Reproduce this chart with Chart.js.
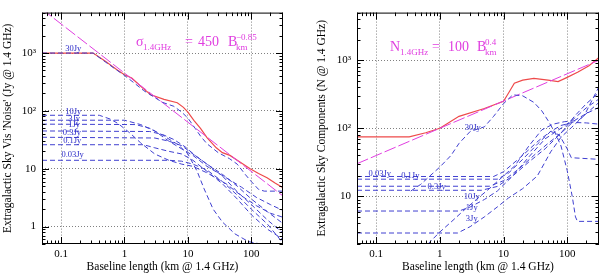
<!DOCTYPE html>
<html>
<head>
<meta charset="utf-8">
<script src="https://cdn.jsdelivr.net/npm/chart.js@4.4.0/dist/chart.umd.min.js"></script>
<style>
  html, body { margin: 0; padding: 0; background: #fff; }
  #wrap { position: relative; width: 600px; height: 275px; }
  .panel { position: absolute; top: 0; width: 300px; height: 275px; }
</style>
</head>
<body>
<div id="wrap">
  <div class="panel" style="left:0"><canvas id="left" width="300" height="275"></canvas></div>
  <div class="panel" style="left:300px"><canvas id="right" width="300" height="275"></canvas></div>
</div>
<script>
// ---- axes ----
const X_MIN = 0.05, X_MAX = 316;
const xTicks = [0.1, 1, 10, 100];
const xTickLabels = ['0.1', '1', '10', '100'];
const leftYTicks = [1, 10, 100, 1000];
const leftYTickLabels = ['1', '10', '10²', '10³'];
const rightYTicks = [10, 100, 1000];
const rightYTickLabels = ['10', '10²', '10³'];

// ---- left panel: sky "noise" vs baseline (km, Jy) ----
const leftTotal = [[0.05,1000],[0.32,1000],[0.5,720],[0.75,520],[1,420],[1.3,370],[1.6,300],[2,240],[2.6,190],
  [4.2,158],[6.8,138],[8.5,115],[10,95],[12.5,68],[15.8,50],[20,34.5],[28,23],[35,19],[46,17],[60,14],
  [96,10],[130,8.3],[177,7],[240,5.6],[316,4.7]];
const leftFit = [[0.05,5740],[316,3.38]];
const left30Jy = [[0.05,1000],[0.32,1000],[0.5,700],[0.75,510],[1,410],[1.5,290],[2,225],[3,170],[4,140],[6,120],
  [8,95],[10,75],[13,50],[16,36],[20,27],[30,19],[45,15],[60,12],[80,8],[100,6],[130,4.4],[160,4.1],[316,4.1]];
const left10Jy = [[0.05,84],[0.4,84],[0.6,72],[0.8,60],[1.2,42],[1.8,28],[3,18],[5,14],[8,12],[12,11],[20,8.5],
  [40,5.5],[70,3.4],[120,2.3],[200,1.7],[316,1.45]];
const left3Jy = [[0.05,69],[1,69],[1.8,58],[3,45],[5,30],[8,22],[12,17],[20,11],[40,7],[70,4.8],[120,3.2],[200,2.4],[316,1.9]];
const left1Jy = [[0.05,59],[1.5,58],[2.5,50],[4,38],[7,26],[10,18],[14,9],[18,4.5],[25,2],[35,1.2],[55,0.75],[90,0.55],[140,0.5]];
const left03Jy = [[0.05,45],[2.5,44],[4,39],[6,32],[9,24],[13,17],[20,12],[35,8],[60,5],[100,3],[180,1.8],[316,1.13]];
const left01Jy = [[0.05,35],[3,34],[5,30],[8,25],[12,18],[20,12],[35,7.5],[60,4],[100,2.4],[180,1.3],[316,0.77]];
const left003Jy = [[0.05,26],[2,26],[3,23],[5,20],[8,18],[12,14],[20,9],[35,5.5],[60,3],[100,1.6],[180,0.9],[316,0.6]];
const left001Jy = [[0.05,14],[5,14],[8,13.5],[12,12],[20,9.5],[35,6],[60,3.5],[100,2],[180,1.1],[316,0.52]];
const leftLabelText = ['30Jy', '10Jy', '3Jy', '1Jy', '0.3Jy', '0.1Jy', '0.03Jy'];
const leftLabelX = [0.156, 0.156, 0.16, 0.16, 0.148, 0.15, 0.152];
const leftLabelY = [1170, 97, 72, 57, 42.6, 30.3, 17.1];

// ---- right panel: number of sky components vs baseline ----
const rightTotal = [[0.05,75],[0.33,75],[0.6,86],[1,100],[2,150],[5,195],[10,250],[12,330],[14.8,460],[20,510],
  [30,540],[50,510],[72,485],[100,560],[148,670],[220,830],[316,1100]];
const rightFit = [[0.05,30.2],[316,1000]];
const right30Jy = [[0.35,12],[0.5,15],[0.7,20],[1,27],[1.5,40],[2,60],[3,90],[4,98],[5,105],[7,150],[10,230],
  [14,310],[20,300],[30,240],[40,180],[50,130],[65,85],[80,55],[100,24],[120,10],[135,5],[145,4.3],[316,4.3]];
const right003Jy = [[0.05,19.6],[7,19.6],[10,23],[20,40],[35,65],[55,90],[75,80],[100,50],[116,37],[316,35]];
const right01Jy = [[0.05,17.9],[8,17.9],[12,22],[20,35],[35,60],[55,90],[80,110],[120,122],[200,120],[316,115]];
const right02Jy = [[0.05,14.1],[6,14.1],[10,17],[18,26],[30,40],[50,60],[80,85],[130,130],[200,165],[316,203]];
const right03Jy = [[0.05,12.3],[4.5,12.3],[8,14],[14,20],[25,32],[45,50],[80,85],[130,150],[200,230],[316,334]];
const right1Jy = [[0.05,6.1],[2,6.1],[3,7],[5,9],[8,12],[14,20],[25,38],[45,70],[80,100],[130,140],[200,200],[316,270]];
const right3Jy = [[0.05,2.9],[1.9,2.9],[3,3.6],[5,5],[8,7],[12,9.5],[20,13],[34,20],[55,45],[80,74],[116,102],[186,155],[316,410]];
const right10Jy = [[0.65,2],[1,3],[1.5,4.2],[2.5,6.5],[4,9.5],[6,13],[10,20],[15,28],[25,55],[40,95],[60,115],[90,125],[150,130],[316,240]];
const rightLabelText = ['30Jy', '0.03Jy', '0.1Jy', '0.3Jy', '10Jy', '1Jy', '3Jy'];
const rightLabelX = [3.29, 0.114, 0.344, 0.89, 3.17, 3.17, 3.17];
const rightLabelY = [103, 21.8, 20.4, 13.7, 9.9, 6.76, 4.74];

const SERIF = '"Liberation Serif", "DejaVu Serif", serif';
const RED = '#ee4a4a';
const MAGENTA = '#e03ee0';
const BLUE = '#4040d0';

Chart.defaults.font.family = SERIF;
Chart.defaults.color = '#000';

function line(points, color, dash, width) {
    return {
        data: points.map(p => ({ x: p[0], y: p[1] })),
        borderColor: color,
        borderWidth: width,
        borderDash: dash,
        pointRadius: 0,
        tension: 0,
        fill: false
    };
}

// frame + inward minor ticks on all four sides
const frameTicks = {
    id: 'frameTicks',
    afterDatasetsDraw(chart) {
        const { ctx, chartArea: a, scales: { x, y } } = chart;
        ctx.save();
        ctx.strokeStyle = '#000';
        ctx.lineWidth = 1;
        ctx.strokeRect(a.left + 0.5, a.top + 0.5, a.right - a.left - 1, a.bottom - a.top - 1);
        ctx.beginPath();
        for (let e = -2; e <= 3; e++) {
            for (let k = 1; k <= 9; k++) {
                const v = k * Math.pow(10, e);
                const len = k === 1 ? 7 : 3.5;
                if (v >= x.min && v <= x.max) {
                    const px = Math.round(x.getPixelForValue(v)) + 0.5;
                    ctx.moveTo(px, a.bottom); ctx.lineTo(px, a.bottom - len);
                    ctx.moveTo(px, a.top); ctx.lineTo(px, a.top + len);
                }
                if (v >= y.min && v <= y.max) {
                    const py = Math.round(y.getPixelForValue(v)) + 0.5;
                    ctx.moveTo(a.left, py); ctx.lineTo(a.left + len, py);
                    ctx.moveTo(a.right, py); ctx.lineTo(a.right - len, py);
                }
            }
        }
        ctx.stroke();
        ctx.restore();
    }
};

function labelPlugin(texts, xs, ys) {
    return {
        id: 'curveLabels',
        afterDatasetsDraw(chart) {
            const { ctx, scales: { x, y } } = chart;
            ctx.save();
            ctx.font = '8.5px ' + SERIF;
            ctx.fillStyle = '#2c2cc8';
            ctx.textAlign = 'center';
            ctx.textBaseline = 'middle';
            texts.forEach((t, i) => {
                ctx.fillText(t, x.getPixelForValue(xs[i]), y.getPixelForValue(ys[i]));
            });
            ctx.restore();
        }
    };
}

// equation drawn in magenta; pieces are [text, dx, kind]
function eqPlugin(pieces, ox, oy) {
    return {
        id: 'equation',
        afterDatasetsDraw(chart) {
            const { ctx, chartArea: a } = chart;
            ctx.save();
            ctx.fillStyle = MAGENTA;
            ctx.textBaseline = 'alphabetic';
            ctx.textAlign = 'left';
            pieces.forEach(([t, dx, kind]) => {
                let size = 14, dy = 0;
                if (kind === 'sub') { size = 9; dy = 4; }
                if (kind === 'sup') { size = 9; dy = -6; }
                ctx.font = size + 'px ' + SERIF;
                ctx.fillText(t, a.left + ox + dx, a.top + oy + dy);
            });
            ctx.restore();
        }
    };
}

function makePanel(id, cfg) {
    const ds = [];
    cfg.blue.forEach(p => ds.push(line(p, BLUE, [5, 3], 1)));
    ds.push(line(cfg.fit, MAGENTA, [12, 3], 1));
    ds.push(line(cfg.total, RED, [], 1.2));

    return new Chart(document.getElementById(id), {
        type: 'line',
        data: { datasets: ds },
        options: {
            responsive: false,
            animation: false,
            layout: { padding: { top: 4, right: cfg.padRight, left: 0, bottom: 0 } },
            plugins: { legend: { display: false }, tooltip: { enabled: false } },
            scales: {
                x: {
                    type: 'logarithmic',
                    min: X_MIN, max: X_MAX,
                    afterBuildTicks: s => { s.ticks = xTicks.map(v => ({ value: v })); },
                    afterFit: s => { s.height = 31; },
                    grid: { color: '#808080', drawTicks: false },
                    border: { display: false, dash: [1, 2] },
                    ticks: {
                        autoSkip: false, maxRotation: 0, padding: 4,
                        font: { size: 11 },
                        callback: v => xTickLabels[xTicks.indexOf(v)]
                    },
                    title: {
                        display: true,
                        text: 'Baseline length (km @ 1.4 GHz)',
                        font: { size: 11.5 },
                        padding: { top: 0, bottom: 1 }
                    }
                },
                y: {
                    type: 'logarithmic',
                    min: cfg.yMin, max: cfg.yMax,
                    afterBuildTicks: s => { s.ticks = cfg.yTicks.map(v => ({ value: v })); },
                    afterFit: s => { s.width = cfg.yWidth; },
                    grid: { color: '#808080', drawTicks: false },
                    border: { display: false, dash: [1, 2] },
                    ticks: {
                        autoSkip: false, padding: 6,
                        font: { size: 11 },
                        callback: v => cfg.yTickLabels[cfg.yTicks.indexOf(v)]
                    },
                    title: {
                        display: true,
                        text: cfg.yTitle,
                        font: { size: 11.5 },
                        padding: { top: cfg.titlePad, bottom: 0 }
                    }
                }
            }
        },
        plugins: [frameTicks, labelPlugin(cfg.labelText, cfg.labelX, cfg.labelY), eqPlugin(cfg.eq, cfg.eqX, cfg.eqY)]
    });
}

makePanel('left', {
    blue: [left30Jy, left10Jy, left3Jy, left1Jy, left03Jy, left01Jy, left003Jy, left001Jy],
    fit: leftFit,
    total: leftTotal,
    yMin: 0.5, yMax: 5000,
    yTicks: leftYTicks, yTickLabels: leftYTickLabels,
    yWidth: 42, padRight: 17, titlePad: 1,
    yTitle: "Extragalactic Sky Vis 'Noise' (Jy @ 1.4 GHz)",
    labelText: leftLabelText, labelX: leftLabelX, labelY: leftLabelY,
    eqX: 94, eqY: 33,
    eq: [['σ', 0, 'main'], ['1.4GHz', 7, 'sub'], ['=', 49, 'main'], ['450', 62, 'main'],
         ['B', 92, 'main'], ['km', 100, 'sub'], ['−0.85', 100, 'sup']]
});

makePanel('right', {
    blue: [right30Jy, right003Jy, right01Jy, right02Jy, right03Jy, right1Jy, right3Jy, right10Jy],
    fit: rightFit,
    total: rightTotal,
    yMin: 2, yMax: 5000,
    yTicks: rightYTicks, yTickLabels: rightYTickLabels,
    yWidth: 57, padRight: 1, titlePad: 15,
    yTitle: 'Extragalactic Sky Components (N @ 1.4 GHz)',
    labelText: rightLabelText, labelX: rightLabelX, labelY: rightLabelY,
    eqX: 33, eqY: 38,
    eq: [['N', 0, 'main'], ['1.4GHz', 10, 'sub'], ['=', 42, 'main'], ['100', 58, 'main'],
         ['B', 87, 'main'], ['km', 95, 'sub'], ['0.4', 95, 'sup']]
});
</script>
</body>
</html>
